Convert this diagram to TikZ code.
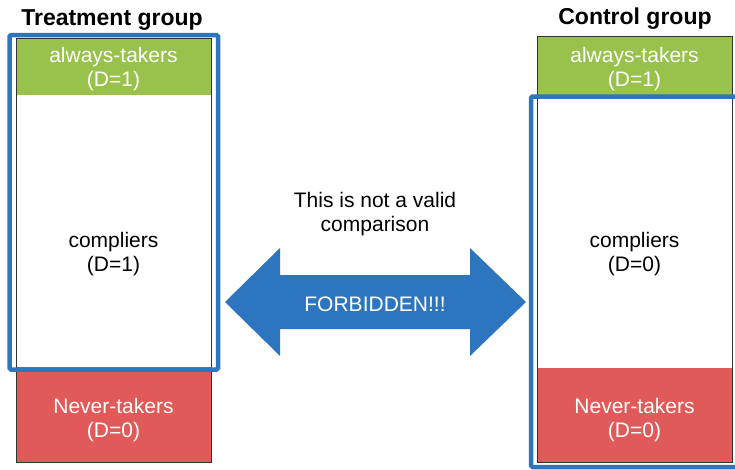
\documentclass[tikz,border=0pt]{standalone}
\usepackage{fontspec}
\setmainfont{Liberation Sans}
\definecolor{takergreen}{HTML}{98C24B}
\definecolor{nevered}{HTML}{E05A59}
\definecolor{markblue}{HTML}{2E75C0}
\definecolor{edgegray}{HTML}{333333}
\begin{document}
\begin{tikzpicture}[x=1pt,y=-1pt,
  lbl/.style={align=center,inner sep=0pt,font=\fontsize{21}{24}\selectfont},
  whitelbl/.style={lbl,text=white},
  title/.style={anchor=base,inner sep=0pt,font=\fontsize{23}{27}\selectfont\bfseries},
  colframe/.style={draw=edgegray,line width=1pt},
  selbox/.style={draw=markblue,line width=4.5pt,rounded corners=1.5pt},
  bigarrow/.style={fill=markblue}]
\useasboundingbox (0,0) rectangle (735,469);

% treatment column
\fill[takergreen] (16,38) rectangle (211,95);
\fill[nevered] (16,367) rectangle (211,462);
\draw[colframe] (16,38) rectangle (211,462);

% control column
\fill[takergreen] (537,36) rectangle (732,95);
\fill[nevered] (537,368) rectangle (732,462);
\draw[colframe] (537,36) rectangle (732,462);

% highlighted subgroups
\draw[selbox] (9.5,35) rectangle (218,369.5);
\draw[selbox] (531,96.5) rectangle (740,467);

% double-headed arrow
\fill[bigarrow] (225,302) -- (280,248) -- (280,275) -- (470,275) -- (470,248)
  -- (526,302) -- (470,356) -- (470,329) -- (280,329) -- (280,356) -- cycle;

% headings
\node[title] (ttitle) at (112,25) {Treatment group};
\node[title] (ctitle) at (635,24) {Control group};

% labels, treatment side
\node[whitelbl] (tat) at (113.5,69) {always-takers\\(D=1)};
\node[lbl] (tco) at (113.5,254) {compliers\\(D=1)};
\node[whitelbl] (tnt) at (113.5,420) {Never-takers\\(D=0)};

% labels, control side
\node[whitelbl] (cat) at (634.5,69) {always-takers\\(D=1)};
\node[lbl] (cco) at (634.5,254) {compliers\\(D=0)};
\node[whitelbl] (cnt) at (634.5,420) {Never-takers\\(D=0)};

% middle texts
\node[lbl] (note) at (375,214) {This is not a valid\\comparison};
\node[whitelbl] (forb) at (375,304) {FORBIDDEN!!!};
\end{tikzpicture}
\end{document}
